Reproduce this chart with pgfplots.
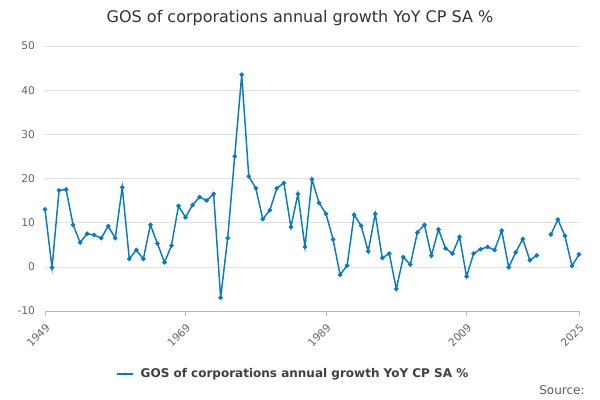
\documentclass[border=0pt]{standalone}
\usepackage{pgfplots}
\pgfplotsset{compat=1.18}
\usepackage{fontspec}
\setmainfont{DejaVu Sans}
\definecolor{ln}{HTML}{0A7ABF}
\definecolor{gr}{HTML}{E0E0E6}
\begin{document}
\begin{tikzpicture}
\useasboundingbox (0,0) rectangle (450pt,300pt);
\begin{axis}[at={(33.75pt,66.75pt)},anchor=south west,scale only axis,width=400.5pt,height=198.75pt,
xmin=1949,xmax=2025,ymin=-10,ymax=50,ytick={-10,0,...,50},xtick={1949,1969,1989,2009,2025},
xticklabel style={rotate=45,anchor=north east,font=\footnotesize,text=gray!80!black,/pgf/number format/1000 sep={}},
yticklabel style={font=\footnotesize,text=gray!80!black},
/pgf/number format/assume math mode=true,
ymajorgrids,grid style={gr},axis y line*=left,y axis line style={draw=none},axis x line*=bottom,x axis line style={gr!80!blue,-},
xtick style={gr!80!blue},tick align=outside,major tick length=4pt,ytick style={draw=none},
unbounded coords=jump,clip=false]
\addplot[ln,line width=1.1pt,mark=*,mark size=1.1pt] coordinates {
(1949,13)(1950,-0.2)(1951,17.3)(1952,17.5)(1953,9.5)(1954,5.5)(1955,7.5)(1956,7.2)(1957,6.5)(1958,9.2)
(1959,6.5)(1960,18)(1961,1.8)(1962,3.8)(1963,1.8)(1964,9.5)(1965,5.3)(1966,1)(1967,4.8)(1968,13.8)
(1969,11.2)(1970,14)(1971,15.8)(1972,15)(1973,16.5)(1974,-7)(1975,6.5)(1976,25)(1977,43.5)(1978,20.5)
(1979,17.8)(1980,10.8)(1981,12.8)(1982,17.8)(1983,19)(1984,9)(1985,16.5)(1986,4.5)(1987,19.8)(1988,14.5)
(1989,12)(1990,6.2)(1991,-1.8)(1992,0.3)(1993,11.8)(1994,9.3)(1995,3.5)(1996,12)(1997,2)(1998,3)
(1999,-5)(2000,2.2)(2001,0.5)(2002,7.8)(2003,9.5)(2004,2.5)(2005,8.5)(2006,4.2)(2007,3)(2008,6.8)
(2009,-2.2)(2010,3)(2011,4)(2012,4.5)(2013,3.8)(2014,8.2)(2015,-0.1)(2016,3.3)(2017,6.3)(2018,1.5)
(2019,2.6)(2020,nan)(2021,7.3)(2022,10.7)(2023,7)(2024,0.2)(2025,2.8)};
\end{axis}
\node[font=\large,text=black!80] at (225pt,286.5pt) {GOS of corporations annual growth YoY CP SA \%};
\draw[ln,line width=1.1pt] (88pt,19.5pt) -- (100pt,19.5pt);
\fill[ln] (94pt,19.5pt) circle (1.1pt);
\node[anchor=west,font=\small\bfseries,text=black!75] at (102pt,19.5pt) {GOS of corporations annual growth YoY CP SA \%};
\node[anchor=east,font=\small,text=black!65] at (442pt,7.5pt) {Source:};
\end{tikzpicture}
\end{document}
